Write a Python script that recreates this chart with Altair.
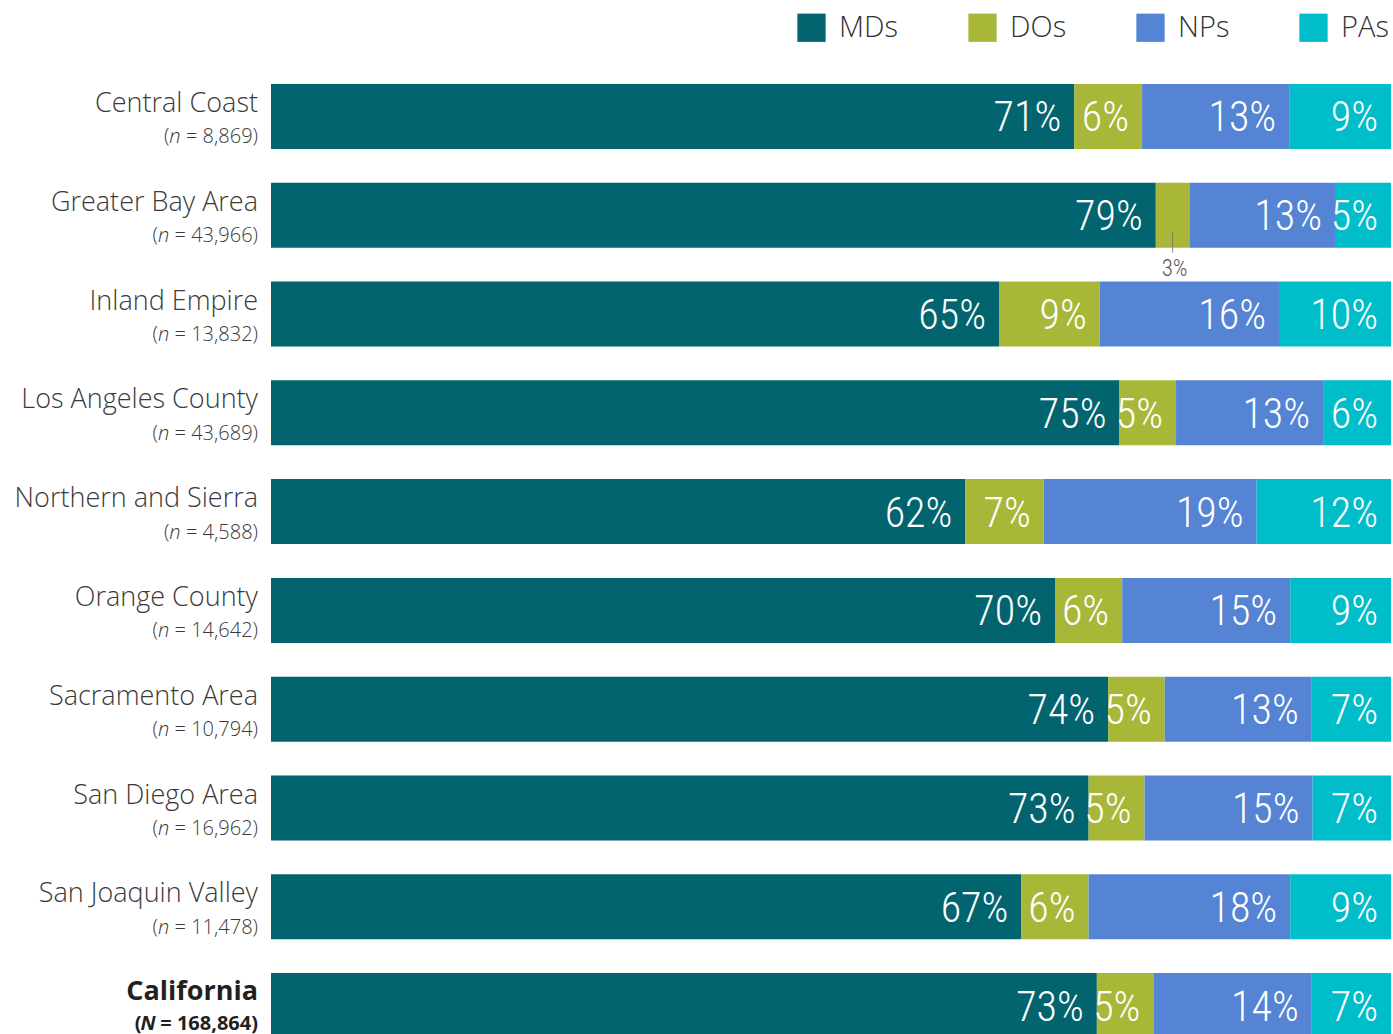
import altair as alt
import pandas as pd

# Provider mix by region (percent of each region's workforce)
regions = [
    "Central Coast", "Greater Bay Area", "Inland Empire", "Los Angeles County",
    "Northern and Sierra", "Orange County", "Sacramento Area", "San Diego Area",
    "San Joaquin Valley", "California",
]
counts = ["8,869", "43,966", "13,832", "43,689", "4,588", "14,642", "10,794",
          "16,962", "11,478", "168,864"]
categories = ["MDs", "DOs", "NPs", "PAs"]
mds = [71, 79, 65, 75, 62, 70, 74, 73, 67, 73]
dos = [6, 3, 9, 5, 7, 6, 5, 5, 6, 5]
nps = [13, 13, 16, 13, 19, 15, 13, 15, 18, 14]
pas = [9, 5, 10, 6, 12, 9, 7, 7, 9, 7]
colors = ["#02646e", "#a9b739", "#5484d3", "#00bdca"]

W, H = 1120, 988
LABEL_FONT = "Open Sans"
BAR_FONT = ("'Roboto Condensed', 'Noto Sans Condensed', 'DejaVu Sans Condensed', "
            "'Liberation Sans Narrow', Lato, sans-serif")

rows = []
for i, r in enumerate(regions):
    for k, (cat, vals) in enumerate(zip(categories, [mds, dos, nps, pas])):
        rows.append({"region": r, "cat": cat, "order": k, "value": vals[i]})
long_df = pd.DataFrame(rows)

# approximate advance widths (em) used to lay out the "(n = ...)" line
REG = {"(": 0.27, ")": 0.27, ",": 0.22, " ": 0.26, "=": 0.572}
BOLD = {"(": 0.33, ")": 0.33, ",": 0.27, " ": 0.26, "=": 0.572}


def text_width(s, table, size):
    return sum(table.get(c, 0.572) for c in s) * size


N_SIZE = 20
GAP = 13
lab_rows = []
for r, c in zip(regions, counts):
    total = r == "California"
    table = BOLD if total else REG
    rest = f" = {c})"
    w_rest = text_width(rest, table, N_SIZE)
    w_n = (0.70 if total else 0.56) * N_SIZE
    lab_rows.append({
        "region": r, "total": total, "rest": rest,
        "nchar": "N" if total else "n",
        "x_rest": -GAP / W,
        "x_n": (-GAP - w_rest) / W,
        "x_paren": (-GAP - w_rest - w_n) / W,
        "x_name": -GAP / W,
    })
lab_df = pd.DataFrame(lab_rows)

xscale = alt.Scale(domain=[0, 1], nice=False, zero=False)
yscale = alt.Scale(domain=regions, paddingInner=0.342, paddingOuter=0.171)
Y = alt.Y("region:N", sort=regions, scale=yscale, axis=None)

base = alt.Chart(long_df).transform_stack(
    stack="value", groupby=["region"], as_=["x0", "x1"], offset="normalize",
    sort=[alt.SortField("order", order="ascending")],
).transform_calculate(xm="(datum.x0 + datum.x1) / 2")

bars = base.mark_bar(cornerRadius=0).encode(
    x=alt.X("x0:Q", scale=xscale, axis=None),
    x2="x1:Q",
    y=Y,
    color=alt.Color(
        "cat:N",
        scale=alt.Scale(domain=categories, range=colors),
        legend=alt.Legend(
            title=None, orient="none", direction="horizontal",
            legendX=526, legendY=-54, padding=0,
            symbolType="square", symbolSize=800, symbolStrokeWidth=0,
            symbolOpacity=1, labelFont=LABEL_FONT, labelFontSize=29,
            labelFontWeight=300, labelColor="#333333", labelOffset=13,
            columnPadding=69,
        ),
    ),
)

inside = base.transform_filter("datum.value >= 4").mark_text(
    align="right", baseline="alphabetic", dx=-13, dy=15,
    font=BAR_FONT, fontSize=42, fontWeight=300, color="white",
).encode(
    x=alt.X("x1:Q", scale=xscale),
    y=Y,
    text=alt.Text("label:N"),
).transform_calculate(label="datum.value + '%'")

small = base.transform_filter("datum.value < 4")
leader = small.mark_tick(
    orient="vertical", size=20, thickness=1, color="#666666", yOffset=27.5,
).encode(x=alt.X("xm:Q", scale=xscale), y=Y)
small_label = small.mark_text(
    align="center", baseline="alphabetic", dx=2, dy=60.5,
    font=BAR_FONT, fontSize=23, fontWeight=300, color="#555555",
).encode(
    x=alt.X("xm:Q", scale=xscale), y=Y, text=alt.Text("label:N"),
).transform_calculate(label="datum.value + '%'")

layers = [bars, inside, leader, small_label]

lab = alt.Chart(lab_df)
for total, weight in [(False, 300), (True, 700)]:
    sub = lab.transform_filter(
        "datum.total" if total else "!datum.total")
    color = "#231f20" if total else "#3a3a3a"
    layers.append(sub.mark_text(
        align="right", baseline="alphabetic", dy=-6 if total else -4.5,
        font=LABEL_FONT, fontSize=27, fontWeight=weight, color=color,
    ).encode(x=alt.X("x_name:Q", scale=xscale), y=Y, text="region:N"))
    common = dict(align="right", baseline="alphabetic",
                  dy=24.5 if total else 27,
                  font=LABEL_FONT, fontSize=N_SIZE, fontWeight=weight,
                  color=color)
    layers.append(sub.mark_text(**common).encode(
        x=alt.X("x_rest:Q", scale=xscale), y=Y, text="rest:N"))
    layers.append(sub.mark_text(fontStyle="italic", **common).encode(
        x=alt.X("x_n:Q", scale=xscale), y=Y, text="nchar:N"))
    layers.append(sub.mark_text(**common).encode(
        x=alt.X("x_paren:Q", scale=xscale), y=Y, text=alt.value("(")))

chart = alt.layer(*layers).properties(
    width=W, height=H,
    autosize=alt.AutoSizeParams(type="none"),
    padding={"left": 271, "top": 67, "right": 2, "bottom": 0},
).configure(
    background="white",
    view=alt.ViewConfig(strokeWidth=0, stroke="transparent"),
)

chart.save("out.html", embed_options={"renderer": "svg", "actions": False})
